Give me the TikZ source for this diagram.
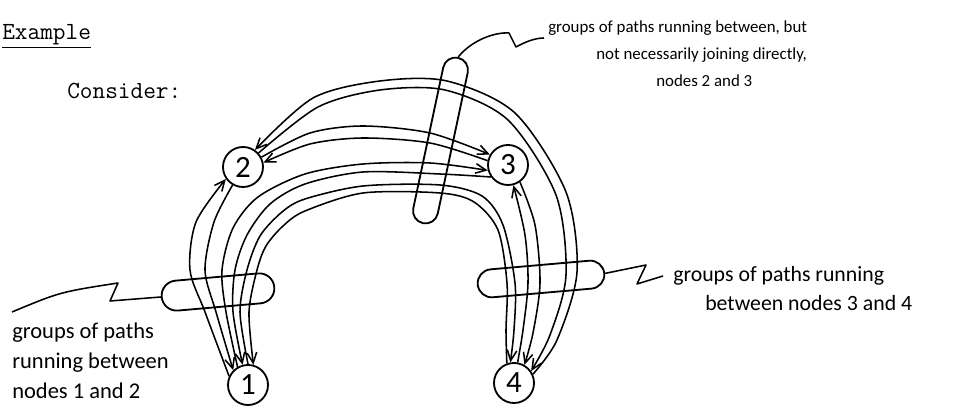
\documentclass[tikz,border=0pt]{standalone}
\usepackage{fontspec}
\newfontfamily\handfont{Carlito}
\usetikzlibrary{arrows.meta, shapes.misc}

\begin{document}
\begin{tikzpicture}[
    x=0.025cm, y=-0.025cm,
    >={Straight Barb[length=2.6mm, width=2.4mm]},
    vert/.style={draw, circle, line width=1.3pt, minimum size=1cm, inner sep=0pt, font=\handfont\fontsize{22}{22}\selectfont},
    pill/.style={draw, line width=1.3pt, rounded rectangle, inner sep=0pt},
    hand/.style={align=left, inner sep=0pt, anchor=north west},
    arr/.style={->, line width=1.1pt},
    lead/.style={line width=1.1pt, line join=round}
]
\useasboundingbox (0,0) rectangle (968,411);

\node[anchor=base west, inner sep=0pt, font=\ttfamily\fontsize{17.5}{20}\selectfont] (title) at (2,40) {\underline{Example}};
\node[anchor=base west, inner sep=0pt, font=\ttfamily\fontsize{17.5}{20}\selectfont] (consider) at (67,99) {Consider:};

\node[vert] (n1) at (248,385) {1};
\node[vert] (n2) at (243,167) {2};
\node[vert] (n3) at (508,165) {3};
\node[vert] (n4) at (514,383) {4};

\draw[arr] plot[smooth] coordinates {(n1.155) (205,312) (190,270) (196,222) (n2.215)};
\draw[arr] plot[smooth] coordinates {(n2.240) (214,222) (205,270) (216,312) (n1.135)};

\draw[arr] plot[smooth] coordinates {(n1.120) (226,312) (222,270) (233,228) (258,197) (305,174) (363,164) (430,163) (n3.195)};
\draw[arr] plot[smooth] coordinates {(n3.215) (440,174) (363,172) (305,184) (270,204) (247,235) (235,270) (233,312) (n1.105)};
\draw[arr] plot[smooth] coordinates {(n1.90) (240,312) (247,270) (260,236) (282,212) (305,199) (363,186) (440,185) (482,196) (503,225) (515,283) (514,330) (n4.100)};
\draw[arr] plot[smooth] coordinates {(n4.110) (506,330) (507,283) (498,230) (474,202) (440,193) (363,193) (305,211) (283,226) (266,246) (257,270) (249,312) (n1.75)};

\draw[arr] plot[smooth] coordinates {(n4.80) (523,330) (528,283) (525,235) (n3.285)};
\draw[arr] plot[smooth] coordinates {(n3.305) (535,225) (540,283) (533,333) (n4.60)};

\draw[arr] plot[smooth] coordinates {(n4.25) (557,340) (577,272) (566,192) (515,113) (447,81) (380,81) (313,98) (n2.55)};
\draw[arr] plot[smooth] coordinates {(n2.42) (318,107) (380,90) (445,90) (508,120) (556,195) (566,275) (550,335) (n4.35)};

\draw[arr] plot[smooth] coordinates {(n2.28) (310,133) (363,126) (430,133) (n3.150)};
\draw[arr] plot[smooth] coordinates {(n3.168) (430,143) (363,138) (310,144) (n2.12)};

\node[pill, minimum width=2.825cm, minimum height=0.75cm, rotate=5] (pillL) at (218,292) {};
\node[pill, minimum width=3.175cm, minimum height=0.7cm, rotate=5] (pillR) at (541,279) {};
\node[pill, minimum width=4.225cm, minimum height=0.625cm, rotate=78] (pillT) at (440.5,140.5) {};

\node[hand, font=\handfont\fontsize{12}{19}\selectfont] (textT) at (548,21) {groups of paths running between, but\\\hspace*{1.2cm}not necessarily joining directly,\\\hspace*{2.7cm}nodes 2 and 3};
\node[hand, font=\handfont\fontsize{15.5}{20.6}\selectfont] (textR) at (673,266) {groups of paths running\\\hspace*{0.8cm}between nodes 3 and 4};
\node[hand, font=\handfont\fontsize{16}{21.3}\selectfont] (textL) at (12,323) {groups of paths\\running between\\nodes 1 and 2};

\coordinate (tipL) at (12,312);
\coordinate (tipT) at (544,38);
\coordinate (tipR) at (663,276);
\draw[lead] (pillL.west) -- (110,301) -- (118,283) .. controls (60,292) .. (tipL);
\draw[lead] (pillT.east) .. controls (472,40) and (495,32) .. (509,33) -- (516,47) .. controls (525,42) and (535,38) .. (tipT);
\draw[lead] (pillR.east) -- (646,265) -- (637,284) -- (tipR);

\end{tikzpicture}
\end{document}
